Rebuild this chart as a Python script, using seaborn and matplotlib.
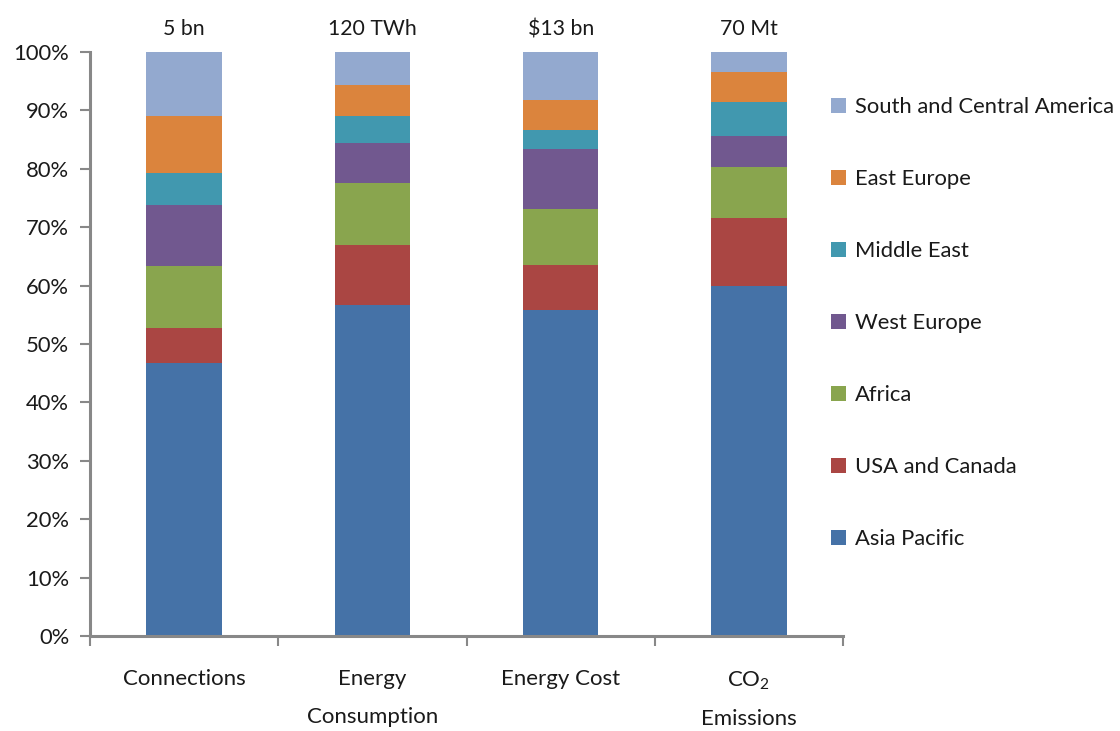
import matplotlib
matplotlib.use("Agg")
import matplotlib.pyplot as plt
import numpy as np
import pandas as pd
import seaborn as sns

# Share of each region (%) for each metric
metrics = ["Connections", "Energy\nConsumption", "Energy Cost", "CO$_\\mathregular{2}$\nEmissions"]
totals = ["5 bn", "120 TWh", "$13 bn", "70 Mt"]
regions = ["Asia Pacific", "USA and Canada", "Africa", "West Europe",
           "Middle East", "East Europe", "South and Central America"]
asia_pacific = [46.7, 56.7, 55.8, 59.9]
usa_canada = [6.1, 10.3, 7.7, 11.6]
africa = [10.6, 10.5, 9.6, 8.8]
west_europe = [10.4, 7.0, 10.3, 5.4]
middle_east = [5.5, 4.6, 3.2, 5.7]
east_europe = [9.8, 5.2, 5.2, 5.1]
south_central_america = [10.9, 5.7, 8.2, 3.5]
colors = ["#4572A7", "#AA4643", "#89A54E", "#71588F",
          "#4198AF", "#DB843D", "#93A9CF"]

series = [asia_pacific, usa_canada, africa, west_europe,
          middle_east, east_europe, south_central_america]
df = pd.DataFrame({r: v for r, v in zip(regions, series)})
cum = df[regions].cumsum(axis=1)
cum["metric"] = metrics

sns.set_theme(style="white")
plt.rcParams["font.family"] = ["Lato", "DejaVu Sans"]
plt.rcParams["mathtext.fontset"] = "custom"
plt.rcParams["mathtext.rm"] = "Lato"
text_color = "#1a1a1a"
axis_color = "#888888"

fig = plt.figure(figsize=(11.2, 7.31), dpi=100)
ax = fig.add_axes([90 / 1120, 95 / 731, 753 / 1120, 584 / 731])

# Stacked bars: draw cumulative totals from the top segment down
for region, color in zip(regions[::-1], colors[::-1]):
    sns.barplot(data=cum, x="metric", y=region, order=metrics, color=color,
                width=0.4, saturation=1, ax=ax, label=region, linewidth=0)

ax.set_xlim(-0.5, 3.5)
ax.set_ylim(0, 100)
ax.set_xlabel("")
ax.set_ylabel("")

# Y axis
yt = np.arange(0, 101, 10)
ax.set_yticks(yt)
ax.set_yticklabels([f"{v}%" for v in yt], fontsize=15.8, color=text_color)
ax.tick_params(axis="y", which="major", direction="out", length=7,
               width=1.5, color=axis_color, pad=8, left=True)

# X axis: ticks at category boundaries, labels at centres
ax.set_xticks(np.arange(-0.5, 3.6, 1.0))
ax.set_xticklabels([])
ax.set_xticks(np.arange(4), minor=True)
ax.set_xticklabels(metrics, minor=True, fontsize=16, color=text_color,
                   linespacing=2.08)
ax.tick_params(axis="x", which="major", direction="out", length=7,
               width=1.5, color=axis_color, bottom=True)
ax.tick_params(axis="x", which="minor", length=0, pad=24)

for side in ["top", "right"]:
    ax.spines[side].set_visible(False)
for side in ["left", "bottom"]:
    ax.spines[side].set_color(axis_color)
    ax.spines[side].set_linewidth(2.2)

# Totals above each bar
for i, t in enumerate(totals):
    ax.text(i, 103.9, t, ha="center", va="center", fontsize=15.3,
            color=text_color, clip_on=False)

leg = ax.legend(loc="upper left", frameon=False,
                fontsize=15.8, handlelength=0.68, handleheight=0.68,
                handletextpad=0.4, labelspacing=2.37, borderaxespad=0,
                borderpad=0)
leg.set_bbox_to_anchor((831 / 1120, 1 - 97 / 731), transform=fig.transFigure)
for txt in leg.get_texts():
    txt.set_color(text_color)

fig.savefig("out.png", dpi=100)
